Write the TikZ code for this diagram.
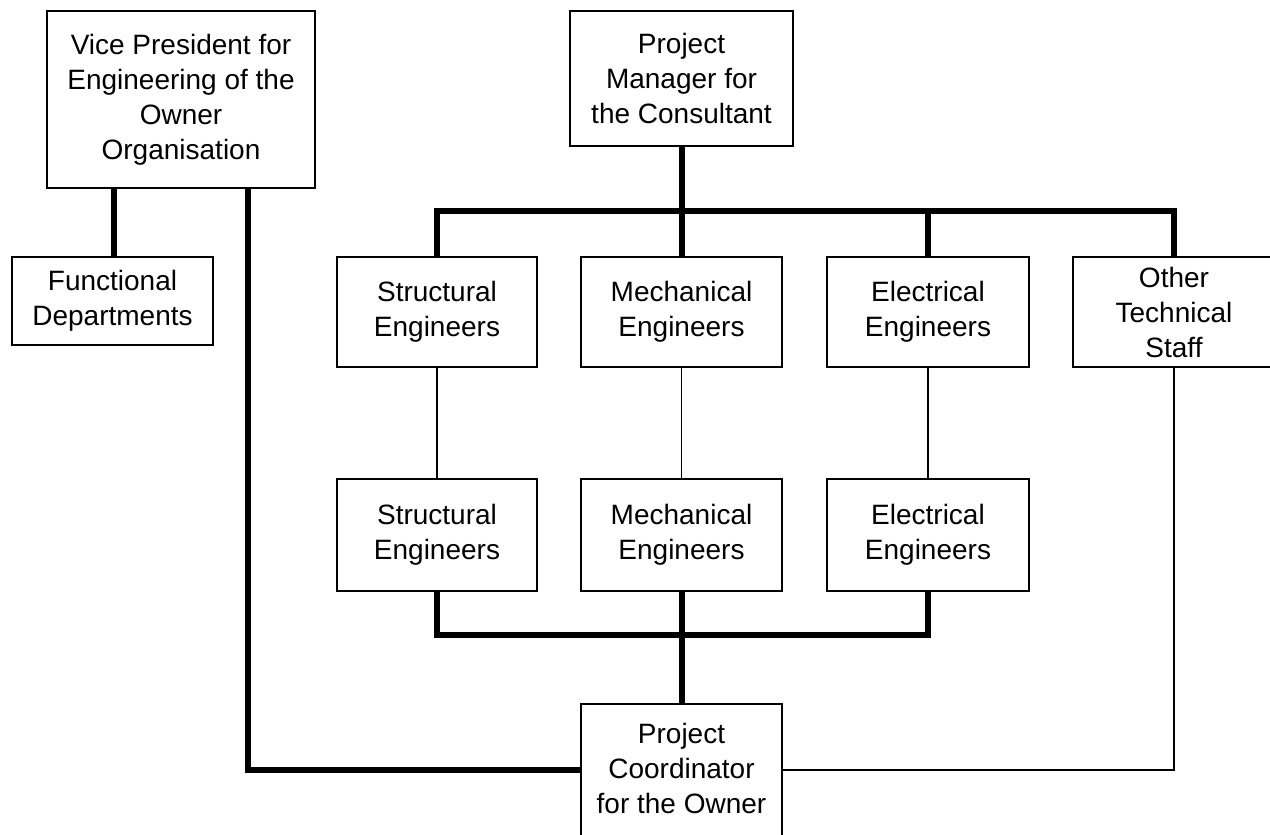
\documentclass[tikz,border=0pt]{standalone}
\usepackage{fontspec}
\setmainfont{Liberation Sans}
\begin{document}
\begin{tikzpicture}[x=1pt,y=-1pt,
  box/.style={draw=black, line width=1.8pt, fill=white, inner sep=0pt, align=center,
    font={\fontsize{28}{35}\selectfont}},
  txt/.style={inner sep=0pt, align=center, font={\fontsize{28}{35}\selectfont}},
  heavy/.style={line width=6pt, line join=miter},
  light/.style={line width=1.8pt}]
\useasboundingbox (0,0) rectangle (1270,835);
% coordinates for bus lines
\coordinate (busA) at (681.5,211);
\coordinate (busB) at (681.5,635);
\coordinate (vpout) at (248,188);
\coordinate (pcl) at (581,770);
\coordinate (pcr) at (782,770);
% connectors (drawn first, boxes on top)
\draw[heavy] (681.5,146) -- (busA);
\draw[heavy] (437,257) |- (busA) -| (1174,257);
\draw[heavy] (681.5,257) -- (busA);
\draw[heavy] (928,257) -- (928,211);
\draw[heavy] (114,188) -- (114,257);
\draw[heavy] (vpout) |- (pcl);
\draw[light] (437,367) -- (437,479);
\draw[light] (681.5,367) -- (681.5,479);
\draw[light] (928,367) -- (928,479);
\draw[heavy] (437,591) |- (busB) -| (928,591);
\draw[heavy] (681.5,591) -- (681.5,703);
\draw[light] (1174,367) |- (pcr);
% boxes
\node[box, minimum width=268pt, minimum height=177pt] (vp) at (181,99.5)
  {Vice President for\\Engineering of the\\Owner\\Organisation};
\node[box, minimum width=223pt, minimum height=135pt] (pm) at (681.5,78.5)
  {Project\\Manager for\\the Consultant};
\node[box, minimum width=201pt, minimum height=88pt] (fd) at (112.5,301)
  {Functional\\Departments};
\node[box, minimum width=200pt, minimum height=110pt] (s1) at (437,312)
  {Structural\\Engineers};
\node[box, minimum width=201pt, minimum height=110pt] (m1) at (681.5,312)
  {Mechanical\\Engineers};
\node[box, minimum width=202pt, minimum height=110pt] (e1) at (928,312)
  {Electrical\\Engineers};
\node[box, minimum width=202pt, minimum height=110pt] (ot) at (1174,312)
  {Other\\Technical\\Staff};
\node[box, minimum width=200pt, minimum height=112pt] (s2) at (437,535)
  {Structural\\Engineers};
\node[box, minimum width=201pt, minimum height=112pt] (m2) at (681.5,535)
  {Mechanical\\Engineers};
\node[box, minimum width=202pt, minimum height=112pt] (e2) at (928,535)
  {Electrical\\Engineers};
\node[box, minimum width=201pt, minimum height=170pt, anchor=north] (pc) at (681.5,703) {};
\node[txt] (pctext) at (681.5,768) {Project\\Coordinator\\for the Owner};
\end{tikzpicture}
\end{document}
